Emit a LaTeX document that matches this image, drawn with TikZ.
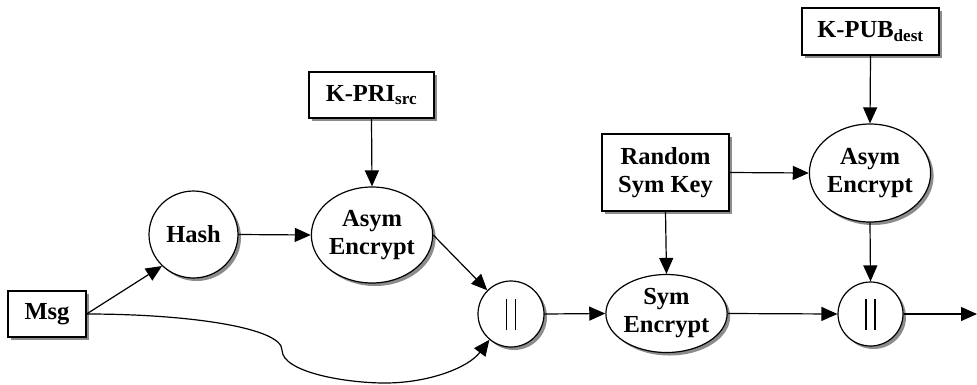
\documentclass[tikz,border=0pt]{standalone}
\usepackage{fontspec}
\setmainfont{Liberation Serif}
\usetikzlibrary{shapes.geometric,shadows,arrows.meta}
\newcommand{\parsym}{\rule{1.4pt}{31pt}\hspace{7.5pt}\rule{1.4pt}{31pt}}
\begin{document}
\begin{tikzpicture}[x=1pt,y=-1pt,
  base/.style={draw=black, line width=1.2pt, fill=white, inner sep=0pt, align=center,
    font=\fontsize{24.5}{28}\selectfont\bfseries,
    drop shadow={shadow xshift=3pt, shadow yshift=-3pt, fill=black!45, opacity=1}},
  boxnode/.style={base, rectangle},
  roundnode/.style={base, ellipse},
  conn/.style={line width=1.2pt, -{Triangle[length=16pt,width=14pt]}}
]
\useasboundingbox (0,0) rectangle (977,384);
\node[boxnode, minimum width=78pt, minimum height=46pt] (msg) at (47,314) {Msg};
\node[roundnode, minimum width=89pt, minimum height=87pt] (hash) at (193.5,234.5) {Hash};
\node[roundnode, minimum width=110pt, minimum height=96pt] (asym1) at (372,235) {Asym\\Encrypt};
\node[boxnode, minimum width=125pt, minimum height=46pt] (kpri) at (371.5,95) {K-PRI\textsubscript{src}};
\node[roundnode, minimum width=66pt, minimum height=66pt] (par1) at (511,314) {\parsym};
\node[roundnode, minimum width=101pt, minimum height=78pt] (sym) at (666.5,313.5) {Sym\\Encrypt};
\node[boxnode, minimum width=127pt, minimum height=77pt] (rnd) at (665.5,172.5) {Random\\Sym Key};
\node[roundnode, minimum width=106pt, minimum height=98pt] (asym2) at (870,173) {Asym\\Encrypt};
\node[boxnode, minimum width=137pt, minimum height=47pt] (kpub) at (870.5,31.5) {K-PUB\textsubscript{dest}};
\node[roundnode, minimum width=65pt, minimum height=64pt] (par2) at (870.5,314) {\parsym};
\coordinate (out) at (977,314);

\draw[conn] (msg.east) -- (hash.225);
\draw[conn] (hash.east) -- (asym1.west);
\draw[conn] (kpri.south) -- (asym1.north);
\draw[conn] (asym1.east) -- (par1.135);
\draw[conn] (msg.east) .. controls (190,314) and (282,328) .. (282,350)
   .. controls (282,372) and (345,383) .. (385,383)
   .. controls (428,383) and (468,368) .. (par1.230);
\draw[conn] (par1.east) -- (sym.west);
\draw[conn] (rnd.south) -- (sym.north);
\draw[conn] (rnd.east) -- (asym2.west);
\draw[conn] (kpub.south) -- (asym2.north);
\draw[conn] (asym2.south) -- (par2.north);
\draw[conn] (sym.east) -- (par2.west);
\draw[conn] (par2.east) -- (out);
\end{tikzpicture}
\end{document}
